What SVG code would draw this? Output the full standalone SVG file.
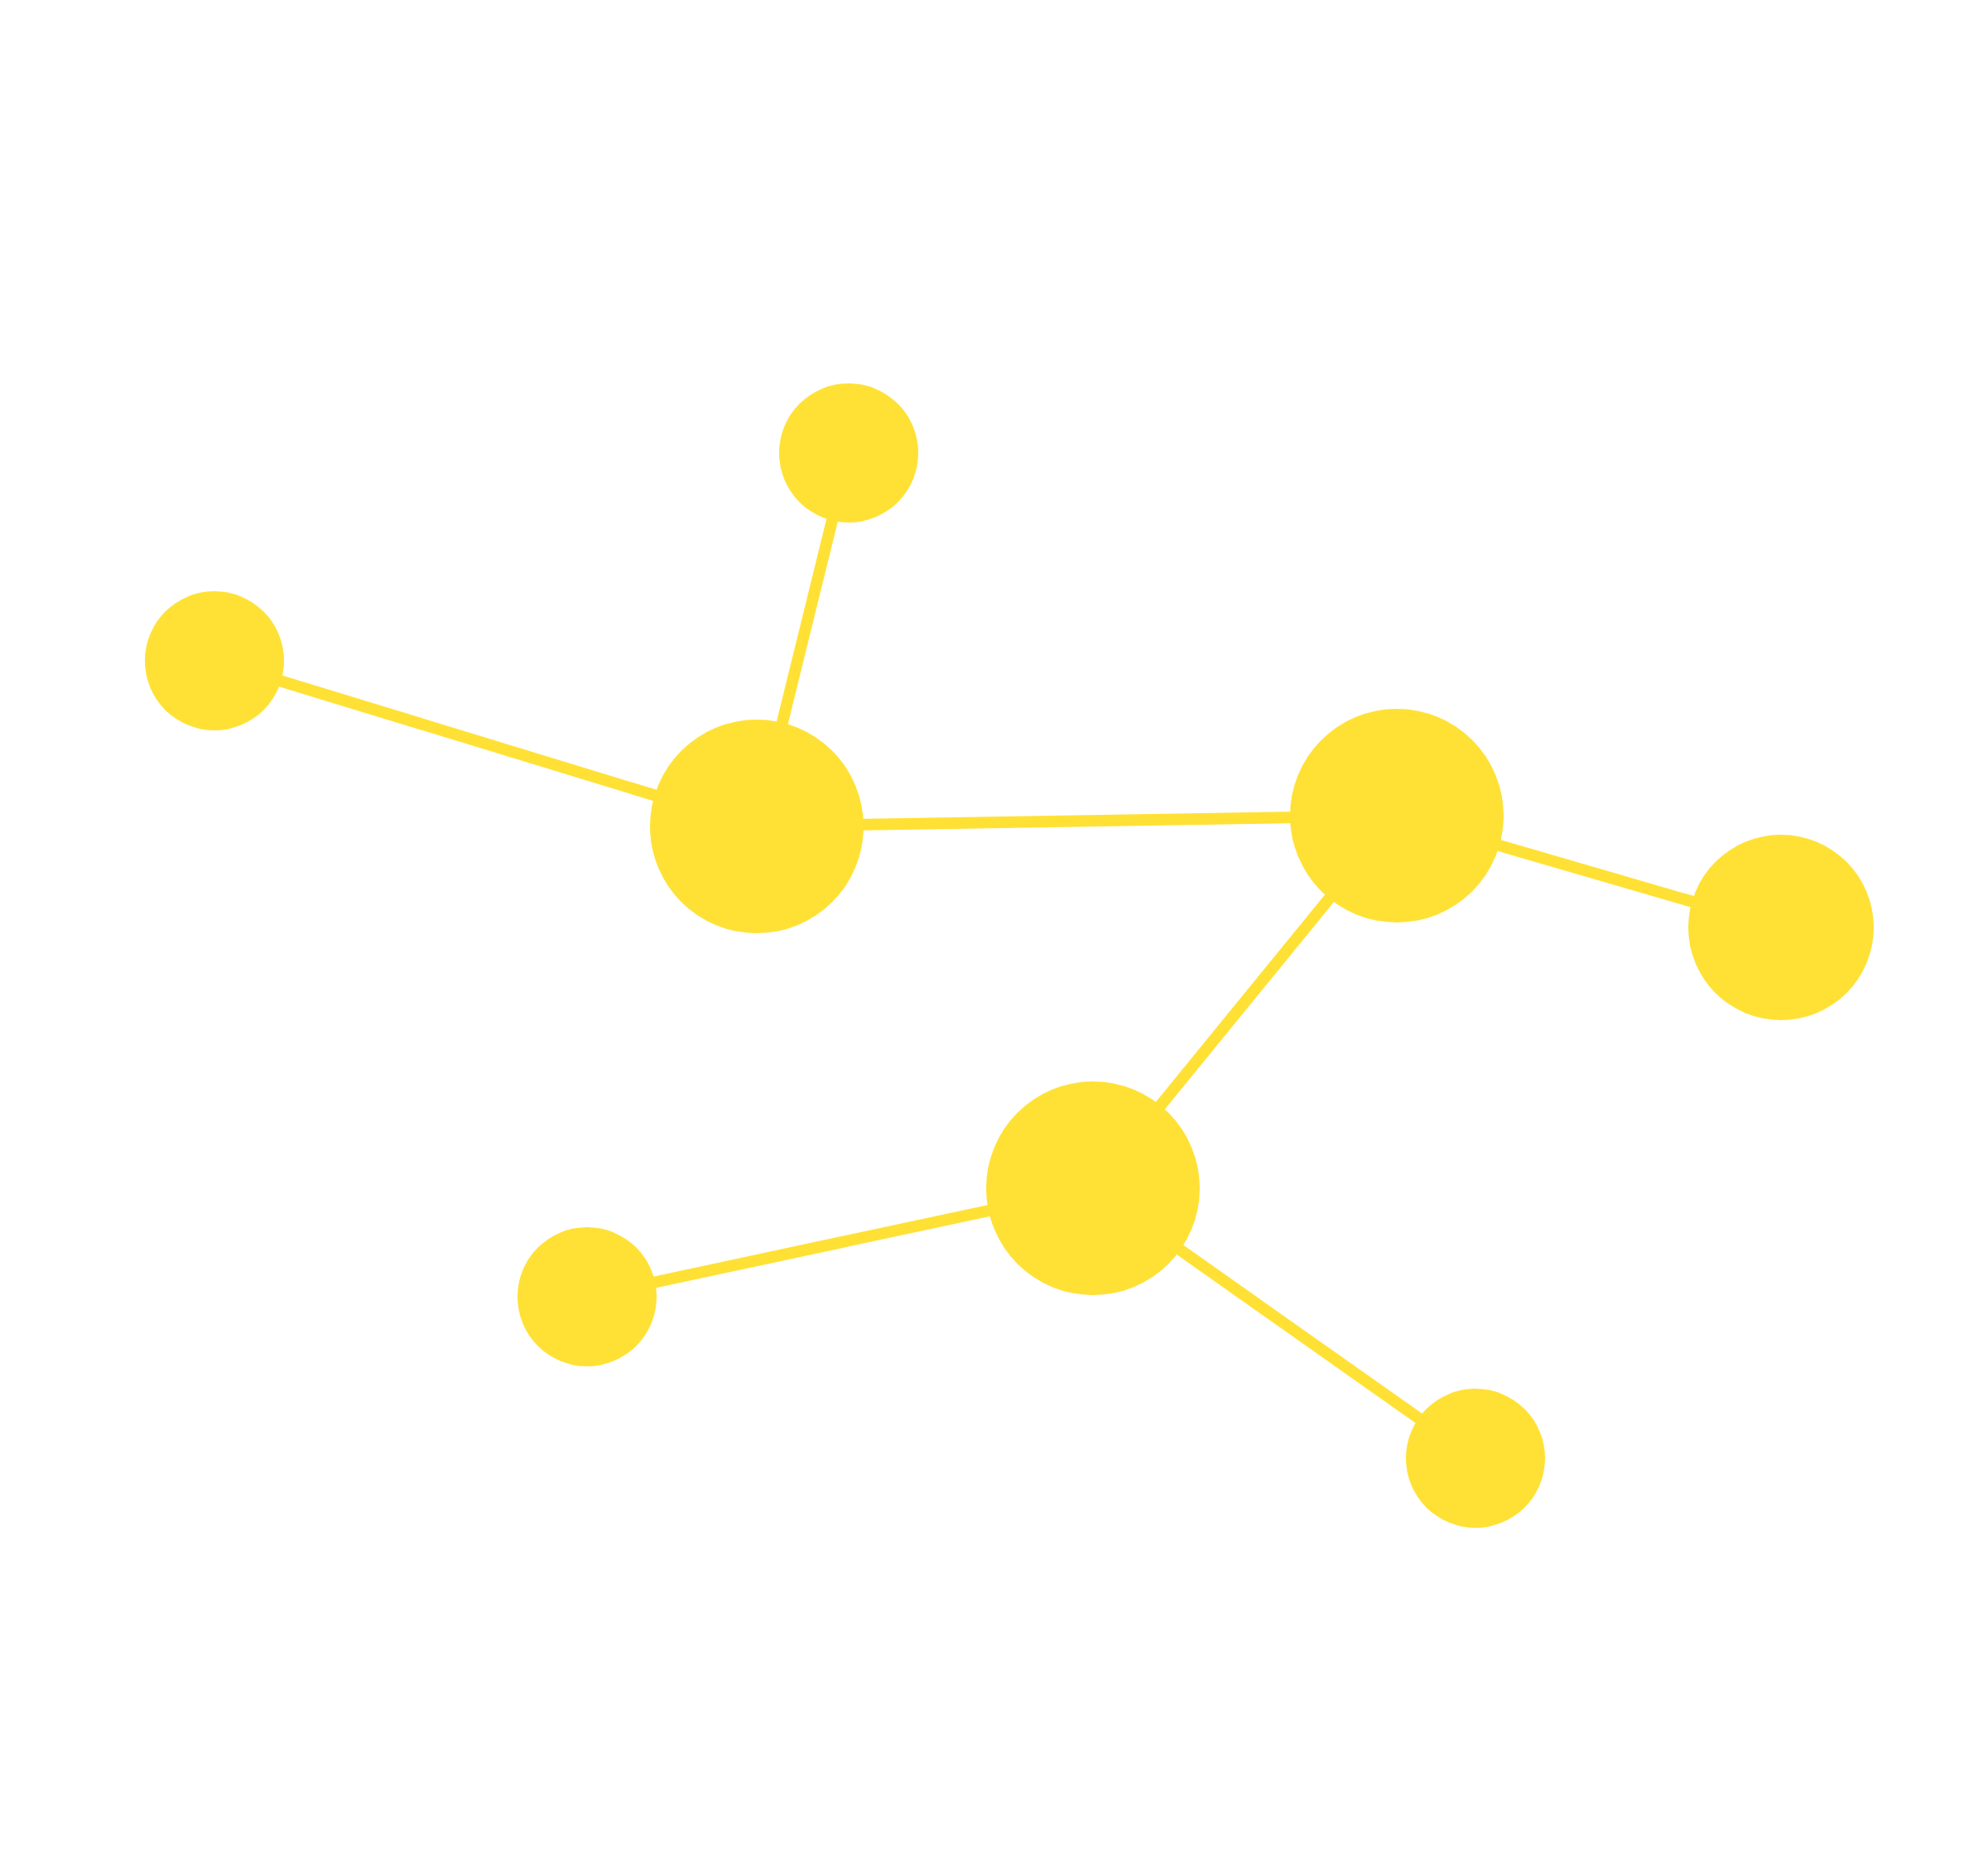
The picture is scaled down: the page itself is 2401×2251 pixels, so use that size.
<svg xmlns="http://www.w3.org/2000/svg" width="2401" height="2251" viewBox="0 0 2401 2251">
<style>
.edge{stroke:#FFE135;stroke-width:14;fill:none}
.node{fill:#FFE135}
</style>
<rect width="2401" height="2251" fill="#FFFFFF"/>
<g id="connectors">
<line class="edge" x1="914" y1="998" x2="1025" y2="547"/>
<line class="edge" x1="914" y1="998" x2="259" y2="798"/>
<line class="edge" x1="914" y1="998" x2="1687" y2="985"/>
<line class="edge" x1="1687" y1="985" x2="2151" y2="1120"/>
<line class="edge" x1="1687" y1="985" x2="1320" y2="1435"/>
<line class="edge" x1="1320" y1="1435" x2="709" y2="1566"/>
<line class="edge" x1="1320" y1="1435" x2="1782" y2="1761"/>
</g>
<g id="node-a"><circle class="node" cx="1025" cy="547" r="84"/></g>
<g id="node-b"><circle class="node" cx="259" cy="798" r="84"/></g>
<g id="node-c"><circle class="node" cx="914" cy="998" r="129"/></g>
<g id="node-d"><circle class="node" cx="1687" cy="985" r="129"/></g>
<g id="node-e"><circle class="node" cx="2151" cy="1120" r="112"/></g>
<g id="node-f"><circle class="node" cx="1320" cy="1435" r="129"/></g>
<g id="node-g"><circle class="node" cx="709" cy="1566" r="84"/></g>
<g id="node-h"><circle class="node" cx="1782" cy="1761" r="84"/></g>
</svg>
